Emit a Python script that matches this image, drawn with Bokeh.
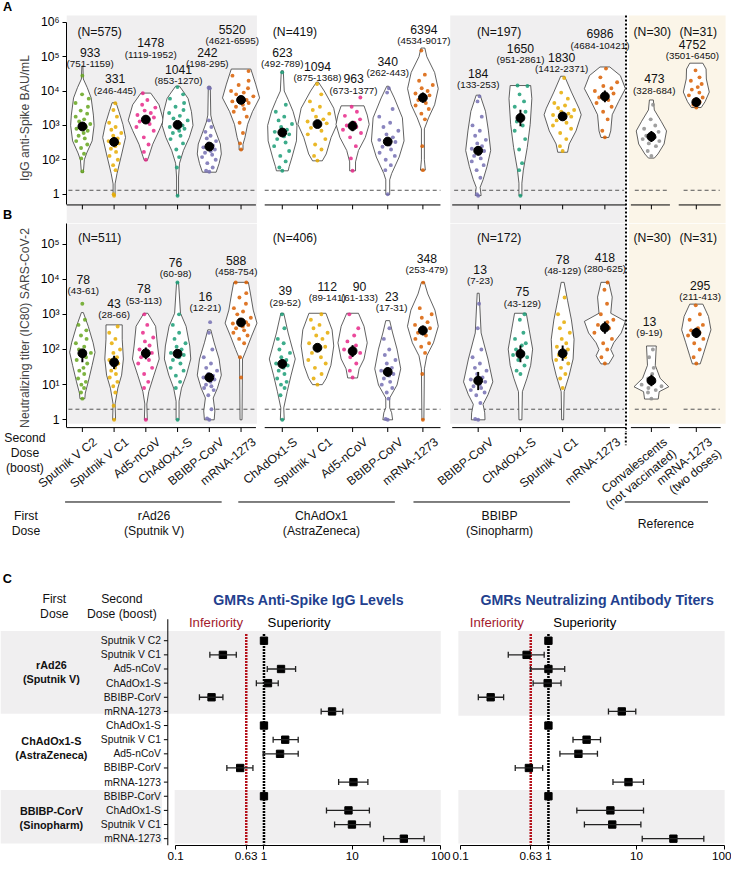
import numpy as np
from bokeh.plotting import figure
from bokeh.models import Range1d, FixedTicker, Whisker, TeeHead, ColumnDataSource
from bokeh.layouts import column, row
from bokeh.embed import file_html
from bokeh.resources import INLINE
from bokeh.core.properties import value

# ======================= DATA =======================
second_dose = ["Sputnik V C2", "Sputnik V C1", "Ad5-nCoV", "ChAdOx1-S", "BBIBP-CorV", "mRNA-1273",
               "ChAdOx1-S", "Sputnik V C1", "Ad5-nCoV", "BBIBP-CorV", "mRNA-1273",
               "BBIBP-CorV", "ChAdOx1-S", "Sputnik V C1", "mRNA-1273",
               "Convalescents\n(not vaccinated)", "mRNA-1273\n(two doses)"]
group_of = [0] * 6 + [1] * 5 + [2] * 4 + [3] * 2
first_dose = ["rAd26\n(Sputnik V)", "ChAdOx1\n(AstraZeneca)", "BBIBP\n(Sinopharm)", "Reference"]

A_N = [575, 419, 197, 30, 31]
B_N = [511, 406, 172, 30, 31]

A_gmt = [933, 331, 1478, 1041, 242, 5520, 623, 1094, 963, 340, 6394, 184, 1650, 1830, 6986, 473, 4752]
A_lo = [751, 246, 1119, 853, 198, 4621, 492, 875, 673, 262, 4534, 133, 951, 1412, 4684, 328, 3501]
A_hi = [1159, 445, 1952, 1270, 295, 6595, 789, 1368, 1377, 443, 9017, 253, 2861, 2371, 10421, 684, 6450]

B_gmt = [78, 43, 78, 76, 16, 588, 39, 112, 90, 23, 348, 13, 75, 78, 418, 13, 295]
B_lo = [43, 28, 53, 60, 12, 458, 29, 89, 61, 17, 253, 7, 43, 48, 280, 9, 211]
B_hi = [61, 66, 113, 98, 21, 754, 52, 141, 133, 31, 479, 23, 129, 129, 625, 19, 413]

# violin outlines: log10 levels (top -> bottom) and density (arbitrary units)
A_violin_log10 = [
    [4.73, 4.35, 4.1, 3.8, 3.3, 3.0, 2.55, 2.2, 2.0, 1.63],
    [3.66, 3.4, 3.03, 2.65, 2.17, 1.6, 1.3, 0.96],
    [3.94, 3.6, 3.15, 2.85, 2.45, 2.1, 1.98],
    [4.14, 3.9, 3.78, 3.4, 3.0, 2.65, 2.27, 1.9, 1.5, 0.96],
    [4.14, 3.3, 3.1, 2.84, 2.46, 2.17, 1.89, 1.64],
    [4.64, 4.2, 3.8, 3.4, 3.03, 2.65, 2.45, 2.29],
    [4.59, 4.0, 3.75, 3.41, 3.0, 2.55, 2.08, 1.8, 1.68],
    [4.26, 4.0, 3.5, 3.03, 2.65, 2.17, 1.97],
    [3.57, 3.3, 3.03, 2.65, 2.27, 1.94, 1.68],
    [4.14, 3.8, 3.22, 2.55, 2.08, 1.6, 1.42, 0.99],
    [5.25, 5.0, 4.54, 4.07, 3.6, 3.22, 2.9, 2.0, 1.70],
    [3.88, 3.41, 2.84, 2.27, 1.8, 1.42, 1.2, 0.96],
    [4.16, 3.78, 3.03, 2.36, 1.7, 1.32, 0.96],
    [4.43, 3.97, 3.5, 3.31, 2.84, 2.46, 2.22],
    [4.70, 4.45, 4.07, 3.69, 3.31, 2.84, 2.65],
    [3.74, 3.45, 3.12, 2.84, 2.46, 2.17, 2.05],
    [4.81, 4.64, 4.35, 3.97, 3.69, 3.52],
]
A_violin_density = [
    [0.5, 1, 5, 9, 11.3, 12, 10, 4.5, 2, 1],
    [2, 5, 9, 11.7, 7.8, 3, 1, 1],
    [5, 13.5, 18, 13.5, 7, 3, 1.5],
    [2, 8, 10.8, 14.2, 15.8, 12, 6, 2, 1, 1],
    [1, 1.5, 3, 6.3, 11.3, 12.3, 10, 7],
    [10, 15, 19, 11.7, 6.7, 4, 2, 2],
    [1, 2, 6, 11, 15, 14.5, 10, 7, 6],
    [1, 7, 16.7, 20, 14, 9, 5],
    [11.7, 15, 17, 13, 6, 3, 3],
    [1, 6.7, 15, 16.7, 11.7, 4, 2, 2],
    [2, 4, 12, 15.7, 12, 5.8, 1.5, 1.5, 2.5],
    [2, 7.5, 10.5, 12.8, 9, 5, 2, 3],
    [10.5, 11.7, 10, 7, 3, 1.5, 1.5],
    [2, 9, 16.7, 19, 13.7, 6.7, 5],
    [5, 15.8, 21, 14, 7.5, 6, 4],
    [2, 3, 10, 15.5, 13, 6.7, 3],
    [6.7, 10, 10.3, 13.3, 9, 5],
]
B_violin_log10 = [
    [3.05, 2.66, 2.19, 1.92, 1.55, 1.08, 0.76, 0.6],
    [2.70, 2.29, 1.73, 1.27, 0.9, 0.45, 0.0],
    [3.03, 2.66, 2.1, 1.73, 1.27, 0.8, 0.45, 0.0],
    [3.91, 3.03, 2.66, 2.1, 1.73, 1.27, 0.9, 0.53, 0.0],
    [2.56, 2.19, 1.73, 1.27, 0.9, 0.62, 0.25, 0.0],
    [3.91, 3.58, 3.12, 2.75, 2.38, 2.0, 1.73, 0.0],
    [3.03, 2.47, 2.01, 1.73, 1.27, 0.8, 0.34, 0.0],
    [3.03, 2.56, 2.1, 1.55, 1.18, 1.0],
    [3.03, 2.66, 2.19, 1.73, 1.45, 1.19],
    [2.82, 2.47, 2.01, 1.45, 0.99, 0.62, 0.34, 0.2, 0.0],
    [3.91, 3.58, 3.12, 2.66, 2.19, 1.82, 1.45, 0.0],
    [3.60, 2.47, 1.73, 1.08, 0.71, 0.44, 0.2, 0.0],
    [3.03, 2.56, 2.01, 1.55, 1.18, 0.8, 0.0],
    [3.91, 3.40, 2.84, 2.29, 1.73, 1.27, 0.8, 0.0],
    [3.91, 3.49, 3.03, 2.80, 2.47, 2.19, 2.0, 1.82, 1.59],
    [2.1, 1.55, 1.18, 0.94, 0.8, 0.59],
    [3.29, 2.94, 2.56, 2.19, 1.82, 1.59],
]
B_violin_density = [
    [1, 6, 11, 13, 10, 6, 3, 2.5],
    [8.3, 8.3, 9.5, 7.7, 3.8, 1, 1.5],
    [2, 10, 12, 13.7, 8.3, 3, 1, 1.5],
    [1, 3, 8.7, 12.5, 13.5, 9, 4, 1.5, 1.5],
    [1.5, 5, 10, 12.3, 8.3, 4, 5.7, 5],
    [7.5, 9.7, 12.5, 16.3, 10.8, 5.5, 1.5, 1],
    [1.5, 6, 10.5, 13.3, 9, 5, 1.5, 2],
    [8.7, 15, 16.7, 13.8, 9, 5],
    [6, 11.7, 15, 11.7, 6.7, 5],
    [2, 5, 9.5, 13.3, 9.5, 2, 2, 4, 5],
    [1.5, 5, 12.3, 15.8, 10.8, 4, 1.5, 1],
    [1, 3, 10, 15, 10, 5, 6.7, 7],
    [6, 9, 12.5, 10.5, 6.7, 2, 1.5],
    [1.5, 5, 9, 11.7, 10.7, 6.7, 1.5, 1],
    [4, 7.5, 6, 21, 16.7, 9, 6, 9, 4],
    [5, 4, 9, 17.8, 8, 7],
    [6.7, 12.5, 15, 10.8, 6.7, 4],
]

# individual participants (approximate readings)
A_points = [
    [46, 110, 150, 220, 280, 350, 420, 500, 600, 700, 800, 900, 1000, 1100, 1300, 1500, 1800, 2200, 2700, 3500, 4500, 6000, 8000, 28000],
    [9, 10, 50, 70, 100, 130, 170, 210, 250, 300, 350, 420, 500, 600, 750, 900, 1200, 1800, 2800, 4400],
    [100, 170, 280, 450, 700, 900, 1100, 1300, 1500, 1700, 2000, 2300, 2700, 3300, 4000, 5500, 8600],
    [9, 60, 120, 200, 300, 400, 500, 600, 700, 800, 900, 1000, 1200, 1400, 1600, 1900, 2300, 2800, 3500, 4500, 6000, 8000, 13000],
    [45, 48, 60, 80, 100, 120, 140, 160, 180, 200, 230, 260, 300, 350, 420, 500, 650, 900, 1400, 12000, 12500],
    [200, 300, 600, 1200, 1800, 2500, 3000, 3500, 4000, 4500, 5000, 5500, 6000, 7000, 8000, 9000, 10000, 12000, 15000, 20000, 28000, 38000],
    [48, 60, 90, 130, 180, 250, 320, 400, 480, 550, 650, 750, 900, 1100, 1400, 1800, 2500, 4000, 35000],
    [95, 130, 200, 280, 400, 550, 700, 850, 1000, 1150, 1300, 1500, 1800, 2200, 2800, 3500, 5000, 8000, 16000],
    [48, 110, 250, 450, 600, 750, 900, 1000, 1200, 1500, 1900, 2500, 3500, 6500],
    [10, 50, 70, 100, 130, 160, 200, 240, 280, 330, 380, 450, 550, 700, 900, 1200, 1800, 3000, 9000, 12000],
    [50, 250, 1500, 2200, 3000, 3800, 4500, 5500, 6500, 7500, 8500, 10000, 12000, 15000, 20000, 30000, 150000],
    [9, 10, 30, 50, 70, 90, 110, 130, 150, 180, 210, 250, 300, 380, 500, 700, 1000, 1800, 5000, 7000],
    [9, 50, 80, 200, 400, 700, 1000, 1300, 1800, 2500, 3500, 5000, 8000, 14000, 14500],
    [180, 250, 400, 600, 800, 1000, 1200, 1400, 1600, 1800, 2000, 2200, 2500, 2800, 3200, 3800, 4500, 6000, 9000, 24000],
    [450, 700, 1500, 2500, 3500, 4500, 5500, 6500, 7500, 8500, 10000, 12000, 14000, 18000, 25000, 45000],
    [130, 180, 250, 300, 350, 400, 450, 500, 550, 650, 800, 1000, 1500, 4000],
    [3300, 4000, 4800, 5500, 6500, 7500, 9000, 11000, 13000, 16000, 20000, 25000, 40000],
]
B_points = [
    [4, 6, 8, 10, 12, 15, 20, 25, 30, 40, 50, 60, 70, 80, 100, 120, 150, 200, 250, 350, 500, 700, 2000],
    [1, 2.5, 6, 9, 12, 16, 20, 25, 30, 40, 50, 60, 80, 100, 150, 200, 300, 450],
    [1, 8, 12, 20, 30, 40, 50, 60, 70, 80, 100, 130, 170, 220, 300, 500, 1000],
    [1, 8, 12, 18, 25, 30, 40, 50, 60, 70, 80, 100, 120, 150, 200, 300, 500, 1000, 8000],
    [1, 1.1, 2, 5, 7, 8, 9, 10, 12, 14, 16, 18, 20, 25, 30, 40, 60, 100, 300, 600],
    [16, 60, 150, 200, 250, 300, 350, 400, 450, 500, 550, 600, 700, 800, 1000, 1200, 1500, 2000, 3000, 4000, 8000, 8100],
    [1, 5, 8, 10, 12, 15, 20, 25, 30, 35, 40, 50, 60, 80, 100, 150, 200, 400, 1000],
    [10, 15, 20, 30, 40, 50, 60, 80, 100, 120, 150, 200, 250, 300, 400, 500, 700, 1000],
    [16, 25, 40, 60, 80, 100, 130, 170, 250, 400, 1000],
    [1, 1.05, 4, 6, 8, 10, 12, 15, 18, 20, 25, 30, 40, 50, 70, 100, 200, 400],
    [1, 20, 80, 120, 150, 200, 250, 300, 350, 400, 500, 600, 800, 1000, 1500, 8000],
    [1, 1.05, 3, 5, 6, 7, 8, 9, 10, 12, 14, 16, 20, 25, 30, 40, 60, 100, 400, 2000],
    [20, 25, 35, 50, 60, 70, 80, 100, 130, 150, 200, 300, 700, 1000],
    [8, 15, 20, 30, 40, 50, 60, 70, 80, 100, 120, 150, 200, 300, 400, 600, 1000, 3000],
    [40, 60, 100, 150, 200, 300, 400, 500, 600, 700, 1000, 2000, 5000, 8000],
    [4, 6, 7, 8, 9, 10, 12, 15, 20, 30, 60, 100],
    [40, 60, 100, 150, 200, 250, 300, 350, 400, 500, 700, 1000, 1800],
]
A_LOD = 13
B_LOD = 2

# Panel C: geometric mean ratios
C_first = ["rAd26\n(Sputnik V)", "ChAdOx1-S\n(AstraZeneca)", "BBIBP-CorV\n(Sinopharm)"]
C_second = ["Sputnik V C2", "Sputnik V C1", "Ad5-nCoV", "ChAdOx1-S", "BBIBP-CorV", "mRNA-1273",
            "ChAdOx1-S", "Sputnik V C1", "Ad5-nCoV", "BBIBP-CorV", "mRNA-1273",
            "BBIBP-CorV", "ChAdOx1-S", "Sputnik V C1", "mRNA-1273"]
igg_gmr = [1, 0.343, 1.56, 1.11, 0.255, 5.9, 1, 1.74, 1.52, 0.538, 10.3, 1, 9.05, 9.9, 38.3]
igg_lo = [None, 0.244, 1.09, 0.82, 0.186, 4.44, None, 1.27, 0.98, 0.38, 7.0, None, 5.1, 6.3, 22.6]
igg_hi = [None, 0.486, 2.28, 1.45, 0.343, 7.8, None, 2.44, 2.44, 0.75, 15.0, None, 15.6, 15.9, 65]
nab_gmr = [1, 0.565, 1.0, 0.98, 0.221, 6.8, 1, 2.71, 2.19, 0.60, 8.1, 1, 5.05, 5.3, 26.2]
nab_lo = [None, 0.35, 0.625, 0.67, 0.16, 4.8, None, 1.9, 1.35, 0.42, 5.4, None, 2.1, 2.56, 11.6]
nab_hi = [None, 0.895, 1.53, 1.39, 0.31, 9.8, None, 3.9, 3.6, 0.86, 12, None, 12, 11.2, 58]
NI_MARGIN = 0.63

# ======================= LAYOUT / STYLE =======================
S = 0.978
FONT = "Liberation Sans"
W = 731
STRIP = 14


def s(v):
    return int(round(v * S))


def fs(v):
    return f"{v * S:.1f}px"


def ya(py):
    return 10 ** (6 - (py - 22) / 35.2)


def yb(py):
    return 10 ** (5 - (py - 249) / 36.0)


COLORS = {"Sputnik V C2": "#66a61e", "Sputnik V C1": "#e6ab02", "Ad5-nCoV": "#e7298a",
          "ChAdOx1-S": "#1b9e77", "BBIBP-CorV": "#7570b3", "mRNA-1273": "#d95f02",
          "Convalescents\n(not vaccinated)": "#8f8f8f", "mRNA-1273\n(two doses)": "#d95f02"}

GROUP_SPANS = [(66, 261), (269, 449), (466, 639), (642, 734)]
cat_x = []
for g, (a, b) in enumerate(GROUP_SPANS):
    n = group_of.count(g)
    step = (b - a) / n
    cat_x += [round(a + step * (i + 0.5), 2) for i in range(n)]

BAND_L, BAND_R = [66, 459, 642], [261, 638, 741]
BAND_C = ["#f0eff0", "#f0eff0", "#fbf5e8"]
SEG_X0, SEG_X1 = [66, 269, 461, 644, 693], [260, 449, 639, 684, 736]
LOD_X0, LOD_X1 = [68, 269, 463, 648, 698], [260, 449, 637, 683, 735]
N_X = [100, 300, 509, 666, 713]
JIT = [0.0, -0.55, 0.5, -0.25, 0.75, -0.8, 0.3, -0.45, 0.15, 0.6, -0.65, 0.4, -0.1,
       0.85, -0.35, 0.2, -0.75, 0.55, -0.2, 0.7, -0.9, 0.9, -0.05]

A_lab_py = [53, 80, 43, 70, 53, 29, 53, 67, 80, 62, 29, 74, 49, 58, 34, 80, 45]
A_lab_dx = [8, 1, 5, 1, -2, -9, 0, 0, 1, 0, 1, 0, 0, -1, -5, 3, -4]
B_lab_py = [285, 310, 295, 268, 303, 266, 297, 292, 292, 303, 264, 275, 298, 265, 263, 328, 291]
B_lab_dx = [1, 0, -2, -2, -4, -5, 3, 10, 7, 4, 4, 2, 2, 0, 0, -2, 4]


def base_fig(width, height, xr, yr, **kw):
    p = figure(width=width, height=height, x_range=xr, y_range=yr,
               output_backend="svg", toolbar_location=None, **kw)
    p.grid.visible = False
    p.outline_line_color = None
    p.background_fill_color = "white"
    p.border_fill_color = "white"
    return p


def txt(p, x, y, t, size, **kw):
    opts = dict(text_font=value(FONT), text_font_size=fs(size), text_align="center",
                text_baseline="middle", text_color="#111111")
    opts.update(kw)
    p.text(x=x, y=y, text=t, **opts)


def style_axis(ax, ticks, labels, title=None, bounds=None, size=12.5):
    ax.ticker = FixedTicker(ticks=ticks)
    ax.major_label_overrides = dict(zip(ticks, labels))
    ax.major_label_text_font = FONT
    ax.major_label_text_font_size = fs(size)
    ax.major_label_text_color = "black"
    ax.minor_tick_line_color = None
    ax.major_tick_in = 0
    ax.major_tick_out = s(4)
    ax.major_tick_line_color = "black"
    ax.axis_line_color = "black"
    ax.major_label_standoff = s(3)
    if title is not None:
        ax.axis_label = title
        ax.axis_label_text_font = FONT
        ax.axis_label_text_font_size = fs(12.5)
        ax.axis_label_text_font_style = "normal"
        ax.axis_label_standoff = s(6)
    if bounds is not None:
        ax.bounds = bounds


def draw_violins(p, yf, band_top, band_bot, sep_top, sep_bot, lod_py, levels, dens, pts,
                 gmt, lo, hi, lab_py, lab_dx, nvals, n_py):
    p.quad(left=BAND_L, right=BAND_R, bottom=[yf(band_bot)] * 3, top=[yf(band_top)] * 3,
           fill_color=BAND_C, line_color=None)
    p.segment(x0=[639], y0=[yf(sep_top)], x1=[639], y1=[yf(sep_bot)],
              line_color="black", line_width=2 * S, line_dash="2 2")
    p.segment(x0=LOD_X0, x1=LOD_X1, y0=[yf(lod_py)] * 5, y1=[yf(lod_py)] * 5,
              line_color="#555555", line_width=1, line_dash="4 3")
    xs, ys = [], []
    for i, cxv in enumerate(cat_x):
        lv, dv = levels[i], dens[i]
        xs.append([cxv - d for d in dv] + [cxv + d for d in dv[::-1]])
        ys.append([10 ** l for l in lv] + [10 ** l for l in lv[::-1]])
    p.patches(xs, ys, fill_color="white", line_color="#3a3a3a", line_width=0.8)
    px, pyv, pc = [], [], []
    for i, cxv in enumerate(cat_x):
        lv_asc, dv_asc = levels[i][::-1], dens[i][::-1]
        for j, v in enumerate(pts[i]):
            hw = float(np.interp(np.log10(v), lv_asc, dv_asc))
            px.append(cxv + 0.8 * hw * JIT[j % len(JIT)])
            pyv.append(v)
            pc.append(COLORS[second_dose[i]])
    p.scatter(px, pyv, size=4 * S, fill_color=pc, line_color=None, fill_alpha=0.85)
    p.segment(x0=cat_x, x1=cat_x, y0=lo, y1=hi, line_color="black", line_width=2 * S)
    p.scatter(cat_x, gmt, size=9 * S, color="black")
    tx = [cat_x[i] + lab_dx[i] for i in range(len(cat_x))]
    txt(p, tx, [yf(v) for v in lab_py], [str(v) for v in gmt], 12.5)
    txt(p, tx, [yf(v + 11.5) for v in lab_py], [f"({a}-{b})" for a, b in zip(lo, hi)], 10)
    txt(p, N_X, [yf(n_py)] * 5, [f"(N={n})" for n in nvals], 12.5)


# ---------------- panel letters strip ----------------
pS = base_fig(s(STRIP), s(228) + s(214), Range1d(0, STRIP), Range1d(442, 0),
              min_border_left=0, min_border_right=0, min_border_top=0, min_border_bottom=0)
pS.axis.visible = False
txt(pS, [7, 7], [7, 219], ["A", "B"], 13, text_font_style="bold", text_color="black")

# ---------------- Panel A ----------------
pA = base_fig(W - s(STRIP), s(228), Range1d(66, 745), Range1d(ya(228), ya(12)), y_axis_type="log",
              min_border_left=s(66) - s(STRIP), min_border_right=W - s(745), min_border_top=s(12),
              min_border_bottom=0)
pA.xaxis.visible = False
style_axis(pA.yaxis[0], [10, 100, 1000, 10000, 100000, 1000000],
           ["1", "10²", "10³", "10⁴", "10⁵", "10⁶"], "IgG anti-Spike BAU/mL",
           bounds=(ya(209), 1000000))
draw_violins(pA, ya, 15, 228, 15, 228, 22 + (6 - np.log10(A_LOD)) * 35.2, A_violin_log10,
             A_violin_density, A_points, A_gmt, A_lo, A_hi, A_lab_py, A_lab_dx, A_N, 32)
pA.segment(x0=SEG_X0, x1=SEG_X1, y0=[ya(209)] * 5, y1=[ya(209)] * 5, line_color="black", line_width=1)
pA.segment(x0=cat_x, x1=cat_x, y0=[ya(209)] * len(cat_x), y1=[ya(213.5)] * len(cat_x),
           line_color="black", line_width=1)

# ---------------- Panel B ----------------
pB = base_fig(W - s(STRIP), s(214), Range1d(66, 745), Range1d(yb(442), yb(228)), y_axis_type="log",
              min_border_left=s(66) - s(STRIP), min_border_right=W - s(745), min_border_top=0,
              min_border_bottom=0)
pB.xaxis.visible = False
style_axis(pB.yaxis[0], [1, 10, 100, 1000, 10000, 100000],
           ["1", "10¹", "10²", "10³", "10⁴", "10⁵"], "Neutralizing titer (IC80) SARS-CoV-2",
           bounds=(yb(437), yb(228)))
draw_violins(pB, yb, 228, 433, 228, 442, 249 + (5 - np.log10(B_LOD)) * 36.0, B_violin_log10,
             B_violin_density, B_points, B_gmt, B_lo, B_hi, B_lab_py, B_lab_dx, B_N, 243)
pB.segment(x0=SEG_X0, x1=SEG_X1, y0=[yb(437)] * 5, y1=[yb(437)] * 5, line_color="black", line_width=1)
pB.segment(x0=cat_x, x1=cat_x, y0=[yb(437)] * len(cat_x), y1=[yb(441.5)] * len(cat_x),
           line_color="black", line_width=1)

# ---------------- category / group labels ----------------
pL = base_fig(W, s(141), Range1d(0, 747), Range1d(583, 442), min_border_left=0,
              min_border_right=0, min_border_top=0, min_border_bottom=0)
pL.axis.visible = False
pL.segment(x0=[639], x1=[639], y0=[442], y1=[455], line_color="black", line_width=2 * S,
           line_dash="2 2")
txt(pL, [c + 10 for c in cat_x], [444.5] * len(cat_x), second_dose, 12.5,
    angle=0.68, text_align="right", text_baseline="top", text_line_height=1.05)
txt(pL, [25], [463], ["Second\nDose\n(boost)"], 12.5, text_line_height=1.05)
pL.segment(x0=[66, 243, 422, 638], x1=[226, 403, 582, 723], y0=[513] * 4, y1=[513] * 4,
           line_color="black", line_width=1)
txt(pL, [26, 157, 328, 510, 680], [535] * 5, ["First\nDose"] + first_dose, 12.5,
    text_line_height=1.1)

# ---------------- Panel C ----------------
rows = list(range(len(C_second)))


def rowy(py):
    return (py - 655) / 14.5


def cx(px):
    return 10 ** ((px - 179) / 90.3 - 1)


def rx(px):
    return 10 ** ((px - 470) / 90.0 - 1)


def forest(p, xf, band_pieces, gmr, lo, hi, title, tcx, inf_x, sup_x):
    for (a, b, t, bt) in band_pieces:
        p.quad(left=[xf(a)], right=[xf(b)], top=[rowy(t)], bottom=[rowy(bt)],
               fill_color="#f0eff0", line_color=None)
    p.segment(x0=[NI_MARGIN], x1=[NI_MARGIN], y0=[rowy(648)], y1=[rowy(864)],
              line_color="#b5121b", line_width=2.6 * S, line_dash="2 1")
    p.segment(x0=[1], x1=[1], y0=[rowy(648)], y1=[rowy(864)],
              line_color="black", line_width=2.6 * S, line_dash="2 1")
    keep = [i for i in rows if lo[i] is not None]
    src = ColumnDataSource(dict(r=[rows[i] for i in keep], lo=[lo[i] for i in keep],
                                hi=[hi[i] for i in keep]))
    p.add_layout(Whisker(source=src, base="r", lower="lo", upper="hi", dimension="width",
                         level="overlay", line_color="#222222", line_width=1.3,
                         upper_head=TeeHead(size=s(6), line_color="#222222", line_width=1.3),
                         lower_head=TeeHead(size=s(6), line_color="#222222", line_width=1.3)))
    sq = p.scatter(gmr, rows, marker="square", size=7.5 * S, color="black")
    sq.level = "overlay"
    txt(p, [xf(tcx)], [rowy(613)], [title], 14.5, text_font_style="bold", text_color="#233f8e")
    txt(p, [xf(inf_x)], [rowy(636)], ["Inferiority"], 13.5, text_color="#a3192b", text_align="right")
    txt(p, [xf(sup_x)], [rowy(636)], ["Superiority"], 13.5, text_color="black", text_align="left")
    p.yaxis.visible = False
    style_axis(p.xaxis[0], [0.1, 0.63, 1, 10, 100], ["0.1", "0.63", "1", "10", "100"],
               bounds=(0.1, 100), size=12)
    p.xaxis[0].major_label_standoff = s(2)


CLW = s(462)
pCL = base_fig(CLW, s(300), Range1d(cx(0), cx(462)), Range1d(rowy(865), rowy(583)),
               x_axis_type="log", min_border_left=0, min_border_right=0, min_border_top=0,
               min_border_bottom=s(18))
forest(pCL, cx, [(0, 450, 645, 730), (0, 165, 808, 863), (178, 450, 808, 863)],
       igg_gmr, igg_lo, igg_hi, "GMRs Anti-Spike IgG Levels", 315, 248, 273)
pCL.segment(x0=[cx(171)], x1=[cx(171)], y0=[rowy(633)], y1=[rowy(865)], line_color="black", line_width=1)
pCL.segment(x0=[cx(167)] * len(rows), x1=[cx(171)] * len(rows), y0=rows, y1=rows,
            line_color="black", line_width=1)
txt(pCL, [cx(164)] * len(rows), rows, C_second, 10.5, text_align="right")
txt(pCL, [cx(52)] * 3, [rowy(687), rowy(765), rowy(837)], C_first, 11, text_font_style="bold")
txt(pCL, [cx(55), cx(124)], [rowy(620)] * 2, ["First\nDose", "Second\nDose (boost)"], 12.5,
    text_line_height=1.1)
txt(pCL, [cx(7)], [rowy(592)], ["C"], 13, text_font_style="bold", text_color="black")

pCR = base_fig(W - CLW, s(300), Range1d(rx(462), rx(747)), Range1d(rowy(865), rowy(583)),
               x_axis_type="log", min_border_left=0, min_border_right=0, min_border_top=0,
               min_border_bottom=s(18))
forest(pCR, rx, [(468, 740, 645, 732), (468, 740, 808, 863)],
       nab_gmr, nab_lo, nab_hi, "GMRs Neutralizing Antibody Titers", 610, 535, 565)

layout = column(row(pS, column(pA, pB, spacing=0), spacing=0), pL, row(pCL, pCR, spacing=0),
                spacing=0)
open("out.html", "w").write(file_html(layout, INLINE))
